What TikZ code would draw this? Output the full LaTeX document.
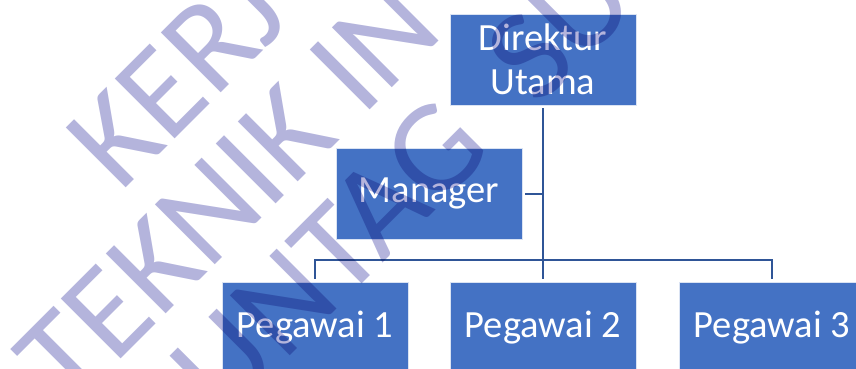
\documentclass[tikz,border=0pt]{standalone}
\usepackage{fontspec}
\setmainfont{Carlito}
\usetikzlibrary{positioning}
\definecolor{boxblue}{HTML}{4472C4}
\definecolor{linkblue}{HTML}{2F5597}
\definecolor{stampcol}{RGB}{180,180,220}
\tikzstyle{unit} = [rectangle, minimum width=186pt, minimum height=91pt, align=center, draw=white!80!boxblue, line width=0.6pt, fill=boxblue, text=white, font=\fontsize{38.5}{43.5}\selectfont]
\tikzstyle{link} = [line width=2pt, draw=linkblue]
\tikzstyle{stamptext} = [anchor=base west, rotate=45, inner sep=0pt, text=stampcol, font=\fontsize{132}{132}\selectfont]

\begin{document}
\begin{tikzpicture}[node distance=134pt]
\clip (0,0) rectangle (856pt,-369pt);

\node (direktur) [unit] at (543pt,-59.5pt) {Direktur\\Utama};
\node (manager) [unit, below of=direktur, xshift=-114pt] {Manager};
\node (pegawai2) [unit, below of=manager, xshift=114pt] {Pegawai 2};
\node (pegawai1) [unit, left of=pegawai2, xshift=-94pt] {Pegawai 1};
\node (pegawai3) [unit, right of=pegawai2, xshift=95pt] {Pegawai 3};

\draw [link] ([yshift=-3pt]direktur.south) -- ([yshift=3pt]pegawai2.north);
\draw [link] ([yshift=3pt]pegawai1.north) -- ++(0,19pt) -| ([yshift=3pt]pegawai3.north);
\draw [link] ([xshift=3pt]manager.east) -- (manager.east -| direktur.south);

% watermark
\begin{scope}[blend mode=multiply]
\node (stamp1) [stamptext] at (120pt,-194pt) {KERJ};
\node (stamp2) [stamptext] at (69pt,-411pt) {TEKNIK IN};
\node (stamp3) [stamptext] at (223.5pt,-422.5pt) {UNTAG\hspace{62pt}SU};
\end{scope}

\end{tikzpicture}
\end{document}
